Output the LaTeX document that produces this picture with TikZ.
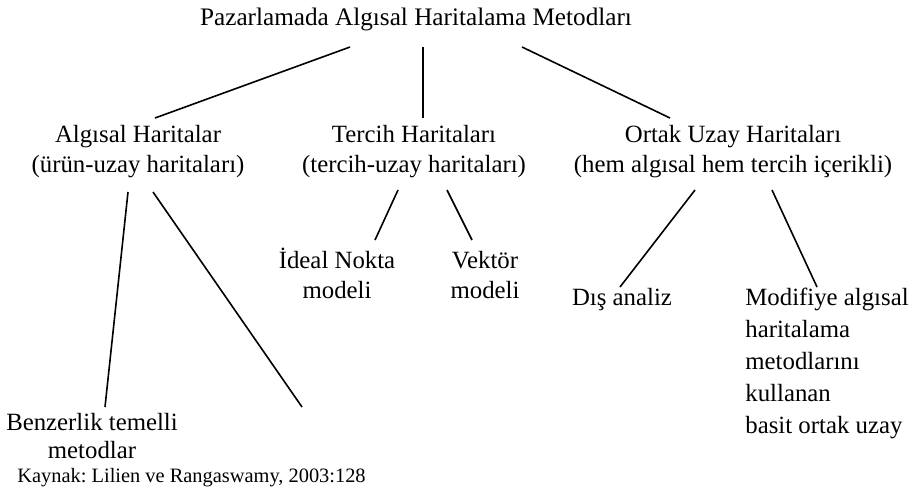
\documentclass[tikz,border=0pt]{standalone}
\usepackage{fontspec}
\setmainfont{Liberation Serif}
\begin{document}
\frenchspacing
\begin{tikzpicture}[x=0.5pt,y=-0.5pt,
  lbl/.style={inner sep=0pt, align=center, anchor=base, font=\fontsize{12.4}{15}\selectfont},
  lbll/.style={inner sep=0pt, align=left, anchor=base west, font=\fontsize{12.4}{16}\selectfont},
  ttl/.style={inner sep=0pt, anchor=base, font=\fontsize{12.6}{14}\selectfont},
  conn/.style={line width=0.8pt}]
\useasboundingbox (0,0) rectangle (913,494);
\node[ttl] (title) at (416,25) {Pazarlamada Algısal Haritalama Metodları};
\node[lbl] (alg) at (138,172) {Algısal Haritalar\\(ürün-uzay haritaları)};
\node[lbl] (tercih) at (414,172) {Tercih Haritaları\\(tercih-uzay haritaları)};
\node[lbl] (ortak) at (733,172) {Ortak Uzay Haritaları\\(hem algısal hem tercih içerikli)};
\node[lbl] (ideal) at (337,298) {İdeal Nokta\\modeli};
\node[lbl] (vektor) at (485,298) {Vektör\\modeli};
\node[lbl] (dis) at (622,305) {Dış analiz};
\node[lbll] (modif) at (745,433) {Modifiye algısal\\haritalama\\metodlarını\\kullanan\\basit ortak uzay};
\node[lbl, font=\fontsize{12.4}{14}\selectfont] (benz) at (92,458) {Benzerlik temelli\\metodlar};
\node[lbll, font=\fontsize{10.2}{12}\selectfont] (kaynak) at (17,482) {Kaynak: Lilien ve Rangaswamy, 2003:128};
\coordinate (blank) at (302,407);
\draw[conn] ([shift={(-66,22)}]title.base) -- ([shift={(17,-54)}]alg.base);
\draw[conn] ([shift={(7,22)}]title.base) -- ([shift={(9,-54)}]tercih.base);
\draw[conn] ([shift={(106,22)}]title.base) -- ([shift={(-63,-54)}]ortak.base);
\draw[conn] ([shift={(-10,20)}]alg.base) -- ([shift={(13,-51)}]benz.base);
\draw[conn] ([shift={(15,20)}]alg.base) -- (blank);
\draw[conn] ([shift={(-16,18)}]tercih.base) -- ([shift={(38,-58)}]ideal.base);
\draw[conn] ([shift={(33,18)}]tercih.base) -- ([shift={(-13,-58)}]vektor.base);
\draw[conn] ([shift={(-38,18)}]ortak.base) -- ([shift={(-2,-18)}]dis.base);
\draw[conn] ([shift={(39,18)}]ortak.base) -- ([shift={(72,-146)}]modif.base west);
\end{tikzpicture}
\end{document}
